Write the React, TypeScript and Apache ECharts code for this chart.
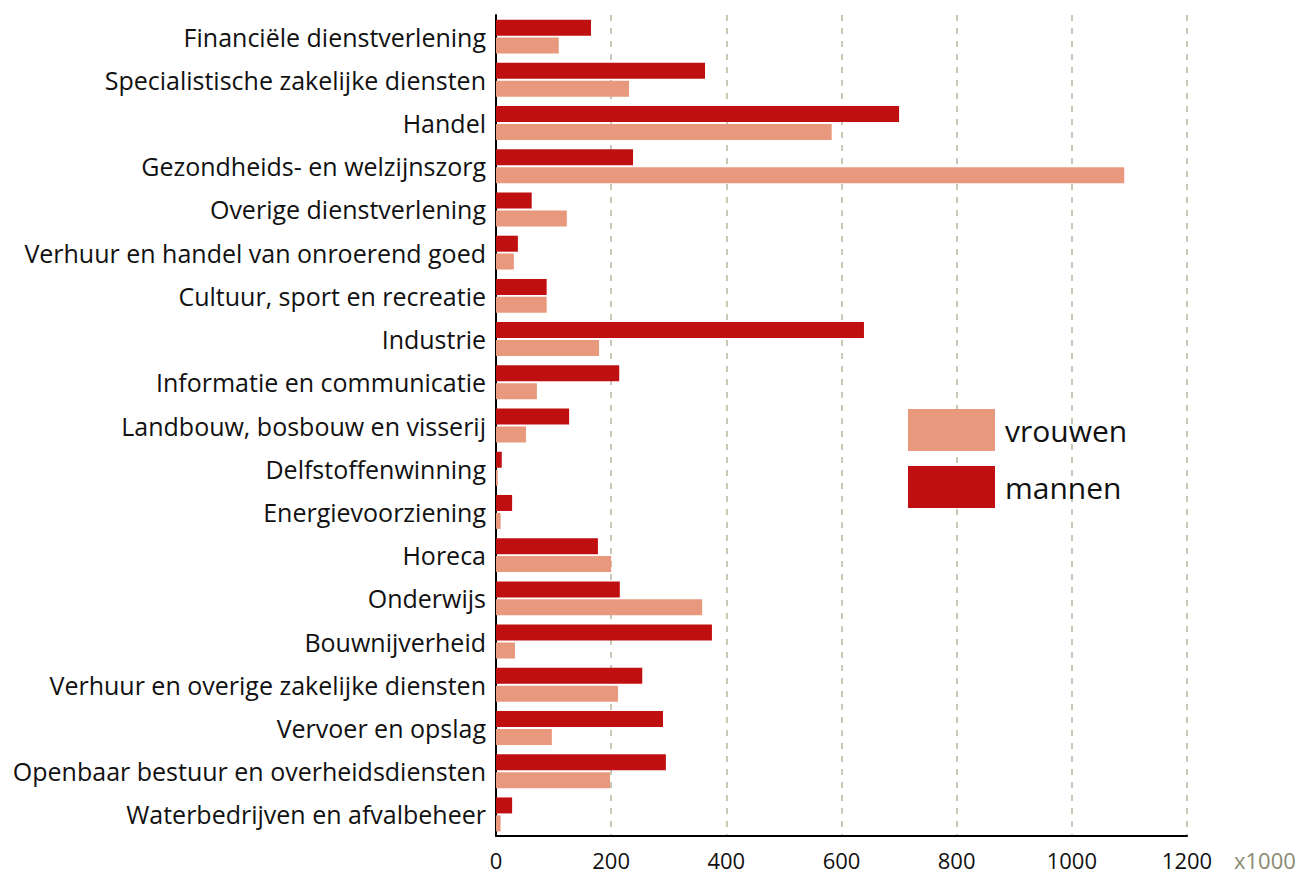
import React, { useEffect, useRef } from "react";
import * as echarts from "echarts";

const categories = [
  "Financiële dienstverlening",
  "Specialistische zakelijke diensten",
  "Handel",
  "Gezondheids- en welzijnszorg",
  "Overige dienstverlening",
  "Verhuur en handel van onroerend goed",
  "Cultuur, sport en recreatie",
  "Industrie",
  "Informatie en communicatie",
  "Landbouw, bosbouw en visserij",
  "Delfstoffenwinning",
  "Energievoorziening",
  "Horeca",
  "Onderwijs",
  "Bouwnijverheid",
  "Verhuur en overige zakelijke diensten",
  "Vervoer en opslag",
  "Openbaar bestuur en overheidsdiensten",
  "Waterbedrijven en afvalbeheer",
];

const mannen = [165, 363, 700, 238, 62, 38, 88, 639, 214, 127, 10, 28, 177, 215, 375, 254, 290, 295, 28];
const vrouwen = [109, 231, 583, 1091, 123, 31, 88, 179, 71, 52, 3, 8, 200, 358, 33, 212, 97, 198, 8];

const xTicks = { min: 0, max: 1200, interval: 200 };

const FONT = "'Open Sans', 'Noto Sans', sans-serif";

export default function App() {
  const ref = useRef<HTMLDivElement>(null);
  useEffect(() => {
    document.body.style.margin = "0";
    const chart = echarts.init(ref.current!, null, { renderer: "svg" });
    chart.setOption({
      animation: false,
      backgroundColor: "#ffffff",
      grid: { left: 496, top: 15, right: 116, bottom: 38, containLabel: false },
      legend: {
        orient: "vertical",
        left: 903,
        top: 404,
        itemWidth: 87,
        itemHeight: 42,
        itemGap: 15,
        icon: "rect",
        data: ["vrouwen", "mannen"],
        textStyle: { fontSize: 30, color: "#111", fontFamily: FONT, padding: [4, 0, 0, 5] },
        selectedMode: false,
      },
      xAxis: {
        type: "value",
        min: xTicks.min,
        max: xTicks.max,
        interval: xTicks.interval,
        axisLine: { show: true, lineStyle: { color: "#000", width: 2 } },
        axisTick: { show: false },
        axisLabel: {
          fontSize: 22,
          color: "#111",
          fontFamily: FONT,
          margin: 13,
          formatter: (v: number) => String(v),
        },
        splitLine: { show: true, lineStyle: { color: "#c8c8b4", width: 2, type: [6, 7] } },
      },
      yAxis: {
        type: "category",
        inverse: true,
        data: categories,
        axisLine: { show: true, lineStyle: { color: "#000", width: 2 } },
        axisTick: { show: false },
        axisLabel: { fontSize: 25, color: "#111", fontFamily: FONT, margin: 10, padding: [12, 0, 0, 0] },
        splitLine: { show: false },
      },
      series: [
        {
          name: "mannen",
          type: "bar",
          data: mannen,
          barWidth: 16,
          barGap: "12%",
          itemStyle: { color: "#c00f10" },
        },
        {
          name: "vrouwen",
          type: "bar",
          data: vrouwen,
          barWidth: 16,
          barGap: "12%",
          itemStyle: { color: "#e8987c" },
        },
      ],
      graphic: [
        {
          type: "text",
          left: 1234,
          top: 849,
          style: { text: "x1000", fontSize: 22, fill: "#8a8a72", fontFamily: FONT },
        },
      ],
    });
    return () => chart.dispose();
  }, []);
  return <div ref={ref} style={{ width: 1303, height: 874 }} />;
}
